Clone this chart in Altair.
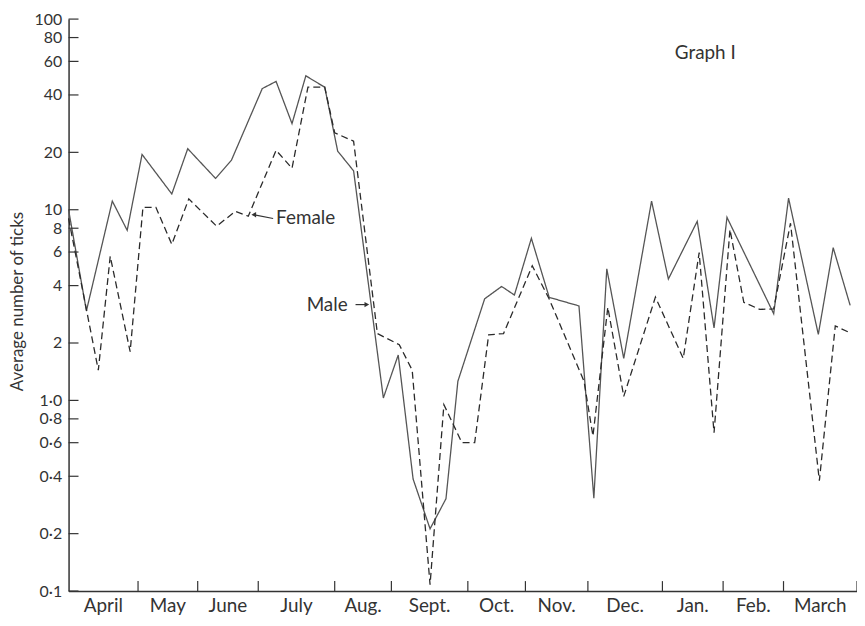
import altair as alt
import pandas as pd

# ---- data (x in weeks from the start of April) ----
month_names = ["April", "May", "June", "July", "Aug.", "Sept.", "Oct.", "Nov.",
               "Dec.", "Jan.", "Feb.", "March"]
month_bounds = [0, 4.67, 8.68, 12.75, 17.89, 21.70, 26.84, 30.71, 34.91,
                39.92, 44.0, 48.06, 53.0]

male_week = [0, 1.2, 2.94, 3.94, 4.94, 6.94, 8.01, 9.88, 10.95, 13.02, 13.95,
             15.02, 15.95, 17.22, 18.09, 19.16, 21.16, 22.16, 23.16, 24.3,
             25.37, 26.17, 27.97, 29.11, 29.97, 31.11, 32.31, 34.31, 35.31,
             36.18, 37.32, 39.19, 40.32, 42.26, 43.39, 44.26, 47.4, 48.4,
             50.4, 51.4, 52.54]
male_val = [10, 2.95, 11.1, 7.8, 19.5, 12.1, 20.9, 14.6, 18.2, 43.2, 47.1,
            28.3, 50.4, 43.9, 20.3, 16.0, 1.03, 1.73, 0.387, 0.212, 0.305,
            1.26, 3.41, 3.96, 3.57, 7.08, 3.47, 3.13, 0.307, 4.9, 1.66, 11.1,
            4.33, 8.7, 2.4, 9.12, 2.85, 11.5, 2.22, 6.32, 3.15]

female_week = [0, 2.0, 2.80, 4.14, 5.0, 5.87, 6.94, 8.08, 9.95, 11.21, 12.08,
               13.95, 15.02, 16.09, 17.22, 17.89, 19.16, 20.76, 22.23, 23.1,
               24.3, 25.23, 26.44, 27.3, 28.24, 29.24, 31.17, 32.31, 34.65,
               35.25, 36.25, 37.32, 39.45, 41.32, 42.39, 43.39, 44.46, 45.39,
               46.46, 47.4, 48.53, 50.47, 51.54, 52.54]
female_val = [9.0, 1.44, 5.7, 1.80, 10.3, 10.3, 6.58, 11.4, 8.2, 9.8, 9.25,
              20.5, 16.5, 44, 44, 25.3, 22.9, 2.24, 1.96, 1.44, 0.108, 0.95,
              0.60, 0.60, 2.21, 2.24, 5.08, 3.4, 1.26, 0.65, 3.08, 1.05, 3.48,
              1.66, 5.96, 0.676, 7.88, 3.27, 3.0, 3.02, 8.5, 0.379, 2.46, 2.26]

y_tick_values = [0.1, 0.2, 0.4, 0.6, 0.8, 1, 2, 4, 6, 8, 10, 20, 40, 60, 80, 100]

FONT = "Lato"
INK = "#333333"
W, H = 794, 576

# ---- tables ----
lines_df = pd.concat([
    pd.DataFrame({"week": male_week, "value": male_val, "sex": "Male"}),
    pd.DataFrame({"week": female_week, "value": female_val, "sex": "Female"}),
])
ytick_df = pd.DataFrame({"value": y_tick_values})
xtick_df = pd.DataFrame({"week": month_bounds[1:]})
month_df = pd.DataFrame({
    "week": [(a + b) / 2 for a, b in zip(month_bounds[:-1], month_bounds[1:])],
    "name": month_names,
})

xs = alt.Scale(domain=[0, 53], nice=False, zero=False)
ys = alt.Scale(type="log", domain=[0.1, 100], nice=False)

label_expr = ("datum.value >= 2 ? format(datum.value, 'd') : "
              "replace(format(datum.value, '.1f'), '.', '\u00b7')")

x_axis = alt.Axis(orient="bottom", labels=False, ticks=False, grid=False,
                  title=None, domainColor=INK, domainWidth=1.5)
y_axis = alt.Axis(orient="left", values=y_tick_values, labelExpr=label_expr,
                  labelOverlap=False, ticks=False, tickSize=0, labelPadding=7,
                  grid=False, domainColor=INK, domainWidth=1.5,
                  labelFont=FONT, labelFontSize=16, labelColor=INK,
                  title="Average number of ticks", titleFont=FONT,
                  titleFontSize=17, titleFontWeight="normal",
                  titleColor=INK, titleX=-51, titleY=284, titleAngle=270,
                  titleAlign="center", titleBaseline="middle")

lines = alt.Chart(lines_df).mark_line(strokeWidth=1.3).encode(
    x=alt.X("week:Q", scale=xs, axis=x_axis),
    y=alt.Y("value:Q", scale=ys, axis=y_axis),
    strokeDash=alt.StrokeDash("sex:N",
                              scale=alt.Scale(domain=["Male", "Female"],
                                              range=[[1, 0], [7, 4]]),
                              legend=None),
    color=alt.Color("sex:N",
                    scale=alt.Scale(domain=["Male", "Female"],
                                    range=["#555555", "#2a2a2a"]),
                    legend=None),
)

yticks = alt.Chart(ytick_df).mark_rule(color=INK, strokeWidth=1.2).encode(
    y=alt.Y("value:Q", scale=ys, axis=y_axis),
    x=alt.value(0), x2=alt.value(10),
)

xticks = alt.Chart(xtick_df).mark_rule(color=INK, strokeWidth=1.2).encode(
    x=alt.X("week:Q", scale=xs, axis=x_axis),
    y=alt.value(H), y2=alt.value(H - 10),
)

months = alt.Chart(month_df).mark_text(
    font=FONT, fontSize=19, color=INK, baseline="middle", align="center"
).encode(
    x=alt.X("week:Q", scale=xs, axis=x_axis),
    y=alt.value(H + 15),
    text="name:N",
)

ann_left = pd.DataFrame({"week": [13.95], "value": [9.0], "label": ["Female"]})
ann_right = pd.DataFrame({"week": [18.76], "value": [3.18], "label": ["Male"]})
ann_title = pd.DataFrame({"week": [42.8], "value": [66.7], "label": ["Graph I"]})

def text_layer(df, align, size=19):
    return alt.Chart(df).mark_text(
        font=FONT, fontSize=size, color=INK, align=align, baseline="middle"
    ).encode(
        x=alt.X("week:Q", scale=xs, axis=x_axis),
        y=alt.Y("value:Q", scale=ys, axis=y_axis),
        text="label:N",
    )

arrows_df = pd.DataFrame({
    "week": [13.75, 19.29], "week2": [12.5, 20.0],
    "value": [9.0, 3.18], "value2": [9.4, 3.18],
})
arrows = alt.Chart(arrows_df).mark_rule(color=INK, strokeWidth=1.2).encode(
    x=alt.X("week:Q", scale=xs, axis=x_axis), x2="week2:Q",
    y=alt.Y("value:Q", scale=ys, axis=y_axis), y2="value2:Q",
)
head_f = alt.Chart(pd.DataFrame({"week": [12.45], "value": [9.42]})).mark_point(
    shape="triangle-left", filled=True, size=30, color=INK, opacity=1
).encode(x=alt.X("week:Q", scale=xs, axis=x_axis),
         y=alt.Y("value:Q", scale=ys, axis=y_axis))
head_m = alt.Chart(pd.DataFrame({"week": [20.05], "value": [3.18]})).mark_point(
    shape="triangle-right", filled=True, size=30, color=INK, opacity=1
).encode(x=alt.X("week:Q", scale=xs, axis=x_axis),
         y=alt.Y("value:Q", scale=ys, axis=y_axis))

chart = alt.layer(
    lines, yticks, xticks, months,
    text_layer(ann_left, "left"), text_layer(ann_right, "right"),
    text_layer(ann_title, "center"),
    arrows, head_f, head_m,
).properties(
    width=W, height=H,
    background="white",
    autosize=alt.AutoSizeParams(type="none"),
    padding={"left": 61, "top": 9, "right": 0, "bottom": 28},
).configure_view(strokeWidth=0)

chart.save("out.html", embed_options={"renderer": "svg", "actions": False})
